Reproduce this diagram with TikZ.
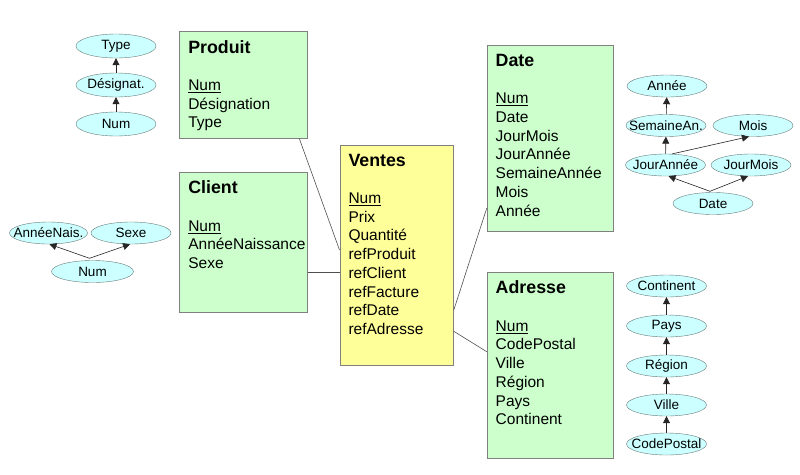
\documentclass[tikz,border=0pt]{standalone}
\usepackage{fontspec}
\setmainfont{Liberation Sans}
\usetikzlibrary{shapes.geometric,arrows.meta,calc}
\definecolor{entgreen}{HTML}{CCFFCC}
\definecolor{factyellow}{HTML}{FFFF99}
\definecolor{attrcyan}{HTML}{CCFFFF}
\definecolor{edgegray}{HTML}{808080}
\definecolor{ellgray}{HTML}{6A7A7A}
\definecolor{linegray}{HTML}{505050}
\newcommand{\enttitle}[1]{{\fontsize{17.8}{18.7}\selectfont\bfseries #1}}
\newcommand{\attrtext}[1]{\makebox[0pt]{#1}}
\begin{document}
\begin{tikzpicture}[x=1pt,y=-1pt,
 entity/.style={draw=edgegray, line width=0.8pt, rectangle, inner sep=0pt, anchor=north west, fill=entgreen},
 fieldtext/.style={anchor=north west, inner sep=0pt, align=left, font=\fontsize{15.5}{18.7}\selectfont},
 attr/.style={ellipse, draw=ellgray, fill=attrcyan, inner sep=0pt, minimum width=80pt, minimum height=22pt, font=\fontsize{13.5}{15}\selectfont},
 link/.style={draw=linegray, line width=0.6pt},
 hier/.style={draw=black!85, line width=0.6pt, -{Triangle[width=7pt,length=7pt]}},
]
\useasboundingbox (0,0) rectangle (800,474);
\fill[white] (0,0) rectangle (800,474);

% entity boxes
\node[entity, minimum width=127.4pt, minimum height=106.7pt] (produit) at (179.3,31) {};
\node[entity, minimum width=127.4pt, minimum height=140pt] (client) at (179.3,171.7) {};
\node[entity, fill=factyellow, minimum width=113.5pt, minimum height=220.3pt] (ventes) at (339.5,144.7) {};
\node[entity, minimum width=126.6pt, minimum height=186pt] (date) at (486.7,45) {};
\node[entity, minimum width=126.6pt, minimum height=186.3pt] (adresse) at (486.7,271.7) {};

% texts
\node[fieldtext] (produitT) at ($(produit.north west)+(8.8,9)$) {\enttitle{Produit}\\[18.7pt]\underline{Num}\\Désignation\\Type};
\node[fieldtext] (clientT) at ($(client.north west)+(8.8,9)$) {\enttitle{Client}\\[18.7pt]\underline{Num}\\AnnéeNaissance\\Sexe};
\node[fieldtext] (ventesT) at ($(ventes.north west)+(8.8,9)$) {\enttitle{Ventes}\\[18.7pt]\underline{Num}\\Prix\\Quantité\\refProduit\\refClient\\refFacture\\refDate\\refAdresse};
\node[fieldtext] (dateT) at ($(date.north west)+(8.8,9)$) {\enttitle{Date}\\[18.7pt]\underline{Num}\\Date\\JourMois\\JourAnnée\\SemaineAnnée\\Mois\\Année};
\node[fieldtext] (adresseT) at ($(adresse.north west)+(8.8,9)$) {\enttitle{Adresse}\\[18.7pt]\underline{Num}\\CodePostal\\Ville\\Région\\Pays\\Continent};

% links
\draw[link] ($(produit.south west)+(120,0)$) -- ($(ventes.north west)+(0,105.3)$);
\coordinate (cv) at ($(client.north east)+(0,100.6)$);
\draw[link] (cv) -- (cv -| ventes.west);
\draw[link] ($(ventes.north east)+(0,165.3)$) -- ($(date.north west)+(0,163.3)$);
\draw[link] ($(ventes.north east)+(0,186.6)$) -- ($(adresse.north west)+(0,80)$);

% produit hierarchy
\node[attr, minimum height=24pt] (ptype) at (116,46) {\attrtext{Type}};
\node[attr, minimum height=24pt] (pdesig) at (116,85) {\attrtext{Désignat.}};
\node[attr, minimum height=24pt] (pnum) at (116,124) {\attrtext{Num}};
\draw[hier] (pdesig) -- (ptype);
\draw[hier] (pnum) -- (pdesig);

% client hierarchy
\node[attr, minimum width=78pt] (cannee) at (48.5,233) {\attrtext{AnnéeNais.}};
\node[attr] (csexe) at (131,233) {\attrtext{Sexe}};
\node[attr, minimum width=82pt] (cnum) at (92.5,271.5) {\attrtext{Num}};
\draw[hier] ($(cnum.north)+(-3,-2)$) -- (cannee.-85);
\draw[hier] ($(cnum.north)+(-3,-2)$) -- (csexe.-95);

% date hierarchy
\node[attr] (dannee) at (667,86) {\attrtext{Année}};
\node[attr] (dsem) at (666,125.5) {\attrtext{SemaineAn.}};
\node[attr] (djour) at (665.5,165) {\attrtext{JourAnnée}};
\node[attr] (dmois) at (753,125.5) {\attrtext{Mois}};
\node[attr] (djmois) at (751,165) {\attrtext{JourMois}};
\node[attr] (ddate) at (713,203.5) {\attrtext{Date}};
\draw[hier] (dsem) -- (dannee);
\draw[hier] (djour) -- (dsem);
\draw[hier] (djour.60) -- (dmois.-110);
\draw[hier] ($(ddate.north)+(-3,-1)$) -- (djour.-75);
\draw[hier] ($(ddate.north)+(-3,-1)$) -- (djmois.-105);

% adresse hierarchy
\node[attr] (acont) at (666.5,286) {\attrtext{Continent}};
\node[attr] (apays) at (666.5,326) {\attrtext{Pays}};
\node[attr] (areg) at (666.5,366) {\attrtext{Région}};
\node[attr] (aville) at (666.5,405) {\attrtext{Ville}};
\node[attr] (acode) at (666.5,444) {\attrtext{CodePostal}};
\draw[hier] (apays) -- (acont);
\draw[hier] (areg) -- (apays);
\draw[hier] (aville) -- (areg);
\draw[hier] (acode) -- (aville);
\end{tikzpicture}
\end{document}
